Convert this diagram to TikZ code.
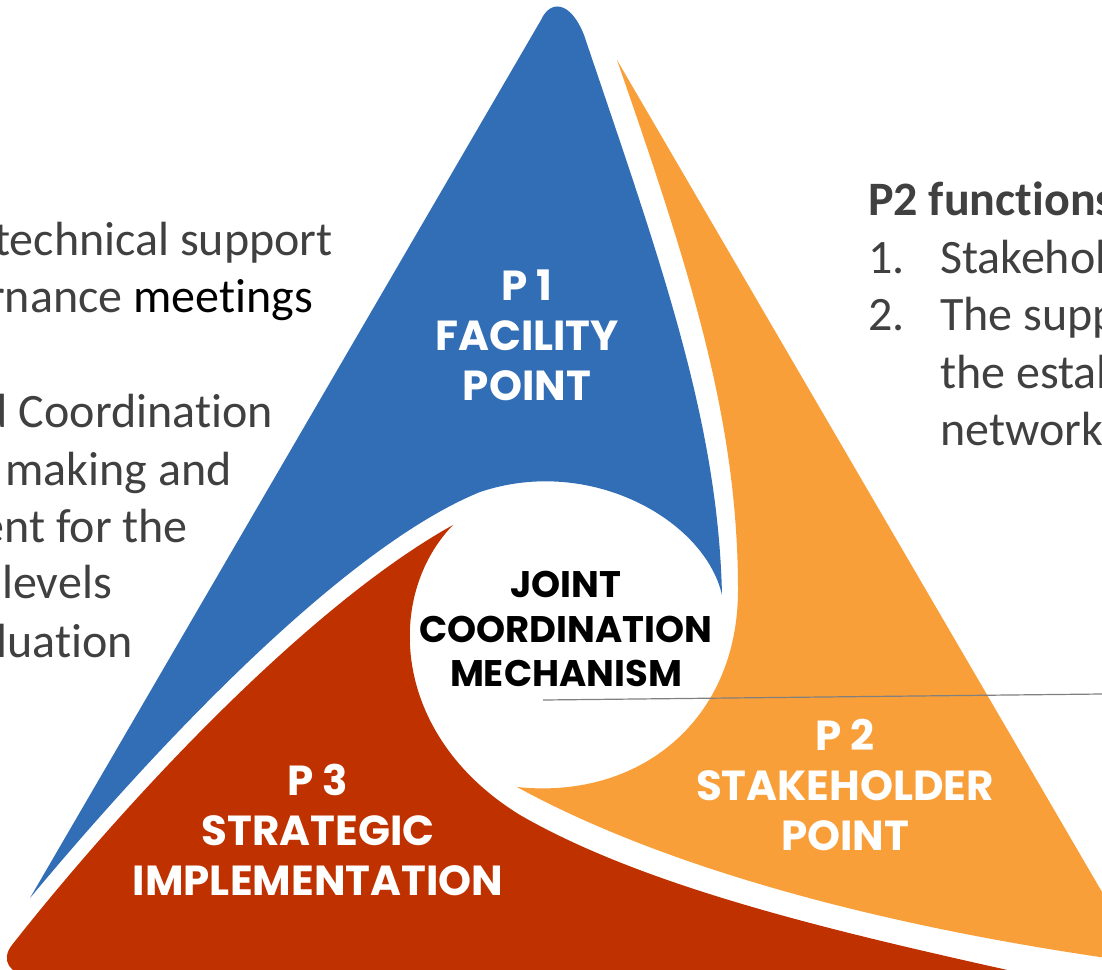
\documentclass[tikz,border=0pt]{standalone}
\usepackage{fontspec}
\setmainfont{Carlito}[Ligatures=CommonOff]
\newfontfamily\poppins{Poppins}
\usetikzlibrary{positioning}
\definecolor{pblue}{RGB}{50,110,182}
\definecolor{porange}{RGB}{249,159,58}
\definecolor{pred}{RGB}{191,50,0}
\definecolor{textgray}{RGB}{64,64,64}
\tikzset{plabel/.style={text=white,align=center,inner sep=0pt,font=\poppins\bfseries\fontsize{42}{50}\selectfont}}
\tikzset{hub/.style={text=black,align=center,inner sep=0pt,font=\poppins\bfseries\fontsize{37}{44.5}\selectfont}}
\tikzset{sidetext/.style={text=textgray,anchor=base east,inner sep=0pt,font=\fontsize{48}{57}\selectfont}}
\tikzset{listtext/.style={text=textgray,anchor=base west,inner sep=0pt,font=\fontsize{48}{57}\selectfont}}
\tikzset{leader/.style={draw=black!50,line width=1.2pt}}

\begin{document}
\begin{tikzpicture}[x=1pt,y=-1pt]
  \clip (0,0) rectangle (1102,969);
  \fill[white] (0,0) rectangle (1102,969);

  % the three sides
  \fill[pblue] (541,20) .. controls (550,0) and (570,0) .. (584,35)
    .. controls (660,260) and (718,420) .. (722,595)
    .. controls (705,520) and (590,455) .. (480,492)
    .. controls (350,545) and (170,730) .. (30,898) -- cycle;
  \fill[porange] (617,60) .. controls (690,270) and (738,420) .. (738,590)
    .. controls (738,720) and (640,800) .. (517,787)
    .. controls (650,860) and (850,920) .. (1100,957)
    -- (1135,960) -- (1130,940) -- cycle;
  \fill[pred] (453,525) .. controls (385,595) and (390,735) .. (520,815)
    .. controls (650,890) and (850,935) .. (1030,975)
    -- (30,975) .. controls (10,975) and (0,960) .. (12,945)
    .. controls (110,820) and (300,610) .. (453,525) -- cycle;

  % labels
  \node[plabel] (P1) at (527,335) {P 1\\FACILITY\\POINT};
  \node[plabel] (P2) at (845,785) {P 2\\STAKEHOLDER\\POINT};
  \node[plabel] (P3) at (318,830) {P 3\\STRATEGIC\\IMPLEMENTATION};
  \node[hub] (JCM) at (566,629) {JOINT\\COORDINATION\\MECHANISM};

  % leader line
  \coordinate (lineL) at (543,700);
  \coordinate (lineR) at (1102,694);
  \draw[leader] (lineL) -- (lineR);

  % left text
  \foreach \t/\x/\y [count=\n] in {technical support/333/255,
      {rnance \textcolor{black}{meetings}}/313/312,
      d Coordination/273/427, making and/232/485,
      ent for the/188/542, levels/112/598, luation/133/657}
    \node[sidetext] (L\n) at (\x,\y) {\t};

  % right text
  \node[listtext,font=\bfseries\fontsize{48}{57}\selectfont] (F0) at (868,215) {P2 functions};
  \node[listtext] (N1) at (868,273) {1.};
  \node[listtext] (F1) at (940,273) {Stakehol};
  \node[listtext] (N2) at (868,330) {2.};
  \node[listtext] (F2) at (940,330) {The supp};
  \node[listtext] (F3) at (940,388) {the estal};
  \node[listtext] (F4) at (940,445) {network};
\end{tikzpicture}
\end{document}
